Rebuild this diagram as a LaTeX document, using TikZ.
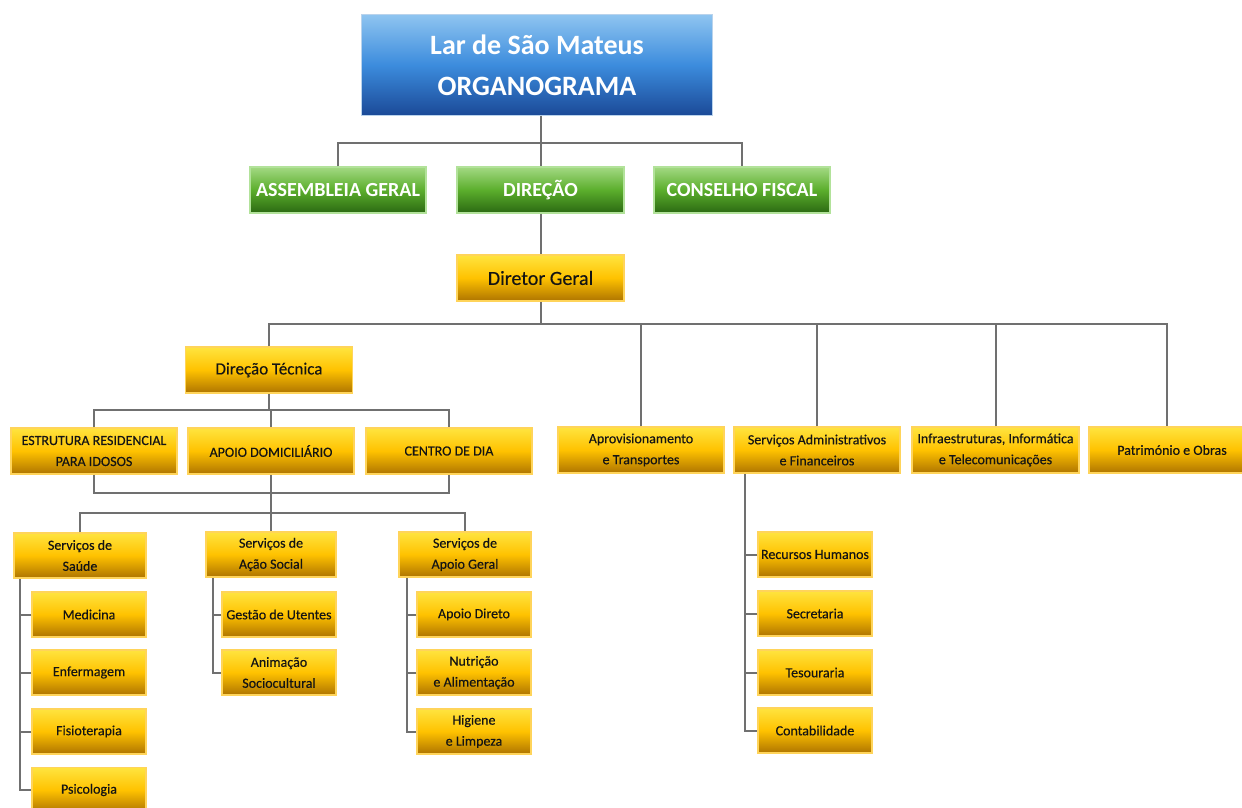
\documentclass[tikz,border=0pt]{standalone}
\usepackage{fontspec}
\setmainfont{Carlito}
\newfontfamily\semib[FakeBold=0.35]{Carlito}
\definecolor{ytop}{HTML}{FFE43F}
\definecolor{ymid}{HTML}{FFC200}
\definecolor{ybot}{HTML}{AE7400}
\definecolor{ybord}{HTML}{FFD45A}
\definecolor{gtop}{HTML}{A3D983}
\definecolor{gmid}{HTML}{5BAE2C}
\definecolor{gbot}{HTML}{2B6912}
\definecolor{gbord}{HTML}{B2E29A}
\definecolor{btop}{HTML}{8EC4F0}
\definecolor{bmid}{HTML}{3C8CDD}
\definecolor{bbot}{HTML}{1B4A98}
\definecolor{bbord}{HTML}{B9D3EC}
\definecolor{lgray}{HTML}{707070}
\begin{document}
\begin{tikzpicture}[x=1pt,y=-1pt,
  box/.style={line width=1.5pt, inner sep=0pt, align=center},
  ybox/.style={box, draw=ybord, top color=ytop, bottom color=ybot, middle color=ymid,
    text=black!92, font=\semib\fontsize{14}{21}\selectfont},
  gbox/.style={box, draw=gbord, top color=gtop, bottom color=gbot, middle color=gmid,
    text=white, font=\fontsize{20}{24}\selectfont\bfseries, minimum height=46pt},
  bbox/.style={box, line width=1pt, draw=bbord, top color=btop, bottom color=bbot, middle color=bmid,
    text=white, font=\fontsize{28}{41}\selectfont\bfseries},
  big/.style={ybox, minimum width=166pt, minimum height=46pt},
  small/.style={ybox, minimum width=114pt, minimum height=45pt},
  mid/.style={ybox, minimum width=132pt, minimum height=45pt},
  conn/.style={draw=lgray, line width=2pt}]
\useasboundingbox (0,0) rectangle (1242,808);

% boxes
\node[bbox, minimum width=351pt, minimum height=100pt] (title) at (537,65) {Lar de São Mateus\\ORGANOGRAMA};
\node[gbox, minimum width=176pt] (ag) at (338,190) {ASSEMBLEIA GERAL};
\node[gbox, minimum width=167pt] (dir) at (540.5,190) {DIREÇÃO};
\node[gbox, minimum width=176pt] (cf) at (742,190) {CONSELHO FISCAL};
\node[ybox, minimum width=167pt, minimum height=46pt, font=\semib\fontsize{20}{24}\selectfont] (dg) at (540.5,278) {Diretor Geral};
\node[ybox, minimum width=167pt, minimum height=46pt, font=\semib\fontsize{17}{21}\selectfont] (dt) at (269,370) {Direção Técnica};
\node[big] (erpi) at (94,451) {ESTRUTURA RESIDENCIAL\\PARA IDOSOS};
\node[big] (ad) at (271,451) {APOIO DOMICILIÁRIO};
\node[big] (cd) at (449,451) {CENTRO DE DIA};
\node[big] (apv) at (641,450) {Aprovisionamento\\e Transportes};
\node[big] (sadm) at (817,450) {Serviços Administrativos\\e Financeiros};
\node[big, minimum width=167pt] (inf) at (995.5,450) {Infraestruturas, Informática\\e Telecomunicações};
\node[big] (pat) at (1172,450) {Património e Obras};
\node[mid] (saude) at (80,555.5) {Serviços de\\Saúde};
\node[mid, minimum width=130pt] (as) at (271,554.5) {Serviços de\\Ação Social};
\node[mid] (apg) at (465,554.5) {Serviços de\\Apoio Geral};
\node[small] (med) at (89,614.5) {Medicina};
\node[small] (enf) at (89,672.5) {Enfermagem};
\node[small] (fis) at (89,731.5) {Fisioterapia};
\node[small] (psi) at (89,790) {Psicologia};
\node[small] (ges) at (279,614.5) {Gestão de Utentes};
\node[small] (ani) at (279,672.5) {Animação\\Sociocultural};
\node[small] (apd) at (474,614.5) {Apoio Direto};
\node[small] (nut) at (474,672.5) {Nutrição\\e Alimentação};
\node[small] (hig) at (474,731.5) {Higiene\\e Limpeza};
\node[small] (rh) at (815,554.5) {Recursos Humanos};
\node[small] (sec) at (815,613.5) {Secretaria};
\node[small] (tes) at (815,672.5) {Tesouraria};
\node[small] (con) at (815,730.5) {Contabilidade};

% junction points
\coordinate (b1) at (540.5,143);
\coordinate (b2) at (540.5,324);
\coordinate (b5) at (269,410);
\coordinate (b3) at (271,493);
\coordinate (b4) at (271,513);

% connectors
\path[conn] (dir.north |- title.south) -- (b1);
\path[conn] (ag.north) |- (b1) -| (cf.north);
\path[conn] (b1) -- (dir.north);
\path[conn] (dir.south) -- (dg.north);
\path[conn] (dg.south) -- (b2);
\path[conn] (dt.north) |- (b2) -| ([xshift=-5pt]pat.north);
\path[conn] (apv.north) -- (apv.north |- b2);
\path[conn] (sadm.north) -- (sadm.north |- b2);
\path[conn] (inf.north) -- (inf.north |- b2);
\path[conn] (dt.south) -- (b5);
\path[conn] (erpi.north) |- (b5) -| (cd.north);
\path[conn] (b5) -| (ad.north);
\path[conn] (erpi.south) |- (b3) -| (cd.south);
\path[conn] (ad.south) -- (b4);
\path[conn] (saude.north) |- (b4) -| (apg.north);
\path[conn] (b4) -- (as.north);
% side branches
\path[conn] ([xshift=7pt]saude.south west) |- (psi.west);
\foreach \n in {med,enf,fis} \path[conn] (\n.west) -- ++(-11,0);
\path[conn] ([xshift=8pt]as.south west) |- (ani.west);
\path[conn] (ges.west) -- ++(-8,0);
\path[conn] ([xshift=9pt]apg.south west) |- (hig.west);
\foreach \n in {apd,nut} \path[conn] (\n.west) -- ++(-9,0);
\path[conn] ([xshift=12pt]sadm.south west) |- (con.west);
\foreach \n in {rh,sec,tes} \path[conn] (\n.west) -- ++(-12,0);
\end{tikzpicture}
\end{document}
